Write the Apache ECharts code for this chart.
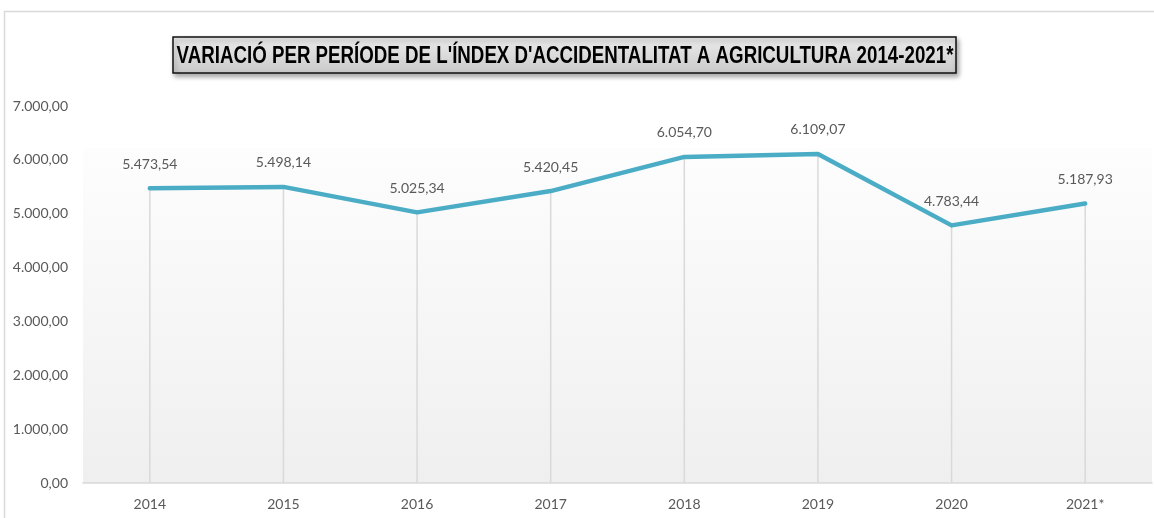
<!DOCTYPE html>
<html>
<head>
<meta charset="utf-8">
<script src="https://cdn.jsdelivr.net/npm/echarts@6/dist/echarts.min.js"></script>
<style>
    html, body { margin: 0; padding: 0; background: #fff; }
    #chart { width: 1154px; height: 518px; }
</style>
</head>
<body>
<div id="chart"></div>
<script>
    // dades
    var years = ['2014', '2015', '2016', '2017', '2018', '2019', '2020', '2021*'];
    var indexValues = [5473.54, 5498.14, 5025.34, 5420.45, 6054.70, 6109.07, 4783.44, 5187.93];
    var yTicks = [0, 1000, 2000, 3000, 4000, 5000, 6000, 7000];
    var titleText = "VARIACIÓ PER PERÍODE DE L'ÍNDEX D'ACCIDENTALITAT A AGRICULTURA 2014-2021*";

    function fmt(v) {
        var parts = v.toFixed(2).split('.');
        parts[0] = parts[0].replace(/\B(?=(\d{3})+(?!\d))/g, '.');
        return parts[0] + ',' + parts[1];
    }

    var myChart = echarts.init(document.getElementById('chart'));
    var options = {
        animation: false,
        textStyle: { fontFamily: 'Lato' },
        graphic: [
            {
                type: 'rect',
                shape: { x: 4.5, y: 11.5, width: 1200, height: 600 },
                style: { fill: 'none', stroke: '#d9d9d9', lineWidth: 1.5 },
                silent: true
            },
            {
                type: 'rect',
                shape: { x: 173, y: 37, width: 783, height: 36 },
                style: {
                    fill: new echarts.graphic.LinearGradient(0, 0, 0, 1, [
                        { offset: 0, color: '#ededed' },
                        { offset: 1, color: '#c9c9c9' }
                    ]),
                    stroke: '#111',
                    lineWidth: 1.5,
                    shadowBlur: 5,
                    shadowOffsetX: 2,
                    shadowOffsetY: 3,
                    shadowColor: 'rgba(0,0,0,0.35)'
                },
                z: 10
            },
            {
                type: 'text',
                x: 565,
                y: 56,
                scaleX: 0.78,
                style: {
                    text: titleText,
                    fill: '#000',
                    font: 'bold 24px "Liberation Sans", Arial, sans-serif',
                    align: 'center',
                    verticalAlign: 'middle'
                },
                z: 11
            }
        ],
        grid: {
            left: 83,
            right: 2,
            top: 106,
            bottom: 35,
            show: true,
            borderWidth: 0,
            backgroundColor: new echarts.graphic.LinearGradient(0, 0, 0, 1, [
                { offset: 0, color: '#ffffff' },
                { offset: 0.11, color: '#ffffff' },
                { offset: 0.115, color: '#fdfdfd' },
                { offset: 1, color: '#efefef' }
            ])
        },
        xAxis: {
            type: 'category',
            data: years,
            boundaryGap: true,
            axisLine: { show: true, lineStyle: { color: '#d9d9d9', width: 1.5 } },
            axisTick: { show: false },
            axisLabel: { color: '#595959', fontSize: 14, margin: 14 },
            splitLine: { show: false }
        },
        yAxis: {
            type: 'value',
            min: 0,
            max: 7000,
            interval: 1000,
            axisLine: { show: false },
            axisTick: { show: false },
            splitLine: { show: false },
            axisLabel: {
                color: '#595959',
                fontSize: 14,
                margin: 15,
                formatter: function (v) { return yTicks.indexOf(v) >= 0 ? fmt(v) : ''; }
            }
        },
        series: [
            {
                // línies de caiguda
                type: 'bar',
                data: indexValues,
                barWidth: 1.5,
                itemStyle: { color: '#d9d9d9' },
                silent: true,
                z: 1
            },
            {
                name: "Índex d'accidentalitat",
                type: 'line',
                data: indexValues,
                symbol: 'circle',
                symbolSize: 2,
                showSymbol: true,
                itemStyle: { color: '#4bacc6' },
                lineStyle: { color: '#4bacc6', width: 4.5, cap: 'round', join: 'round' },
                label: {
                    show: true,
                    position: 'top',
                    distance: 16,
                    color: '#595959',
                    fontSize: 14,
                    formatter: function (p) { return fmt(p.value); }
                },
                z: 3
            }
        ]
    };
    myChart.setOption(options);
</script>
</body>
</html>
